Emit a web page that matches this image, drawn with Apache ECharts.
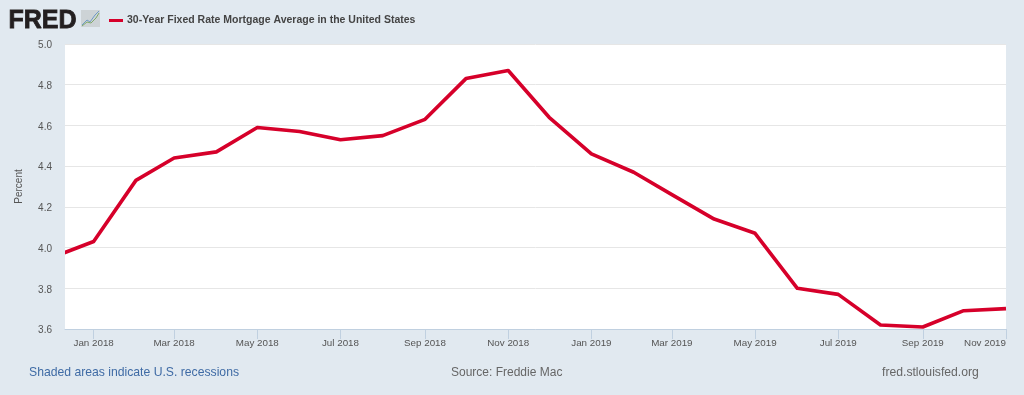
<!DOCTYPE html>
<html><head><meta charset="utf-8">
<style>html,body{margin:0;padding:0;background:#e1e9f0}#c{width:1024px;height:395px}</style>
<script src="https://cdn.jsdelivr.net/npm/echarts@6/dist/echarts.min.js"></script>
</head><body><div id="c"></div>
<script>
var seriesName = '30-Year Fixed Rate Mortgage Average in the United States';
var months = ['2017-12-01','2018-01-01','2018-02-01','2018-03-01','2018-04-01','2018-05-01','2018-06-01','2018-07-01','2018-08-01','2018-09-01','2018-10-01','2018-11-01','2018-12-01','2019-01-01','2019-02-01','2019-03-01','2019-04-01','2019-05-01','2019-06-01','2019-07-01','2019-08-01','2019-09-01','2019-10-01','2019-11-01'];
var rates = [3.95,4.03,4.33,4.44,4.47,4.59,4.57,4.53,4.55,4.63,4.83,4.87,4.64,4.46,4.37,4.26,4.14,4.07,3.80,3.77,3.62,3.61,3.69,3.70];
var tickMonths = ['2018-01-01','2018-03-01','2018-05-01','2018-07-01','2018-09-01','2018-11-01','2019-01-01','2019-03-01','2019-05-01','2019-07-01','2019-09-01','2019-11-01'];
var monthNames = ['Jan','Feb','Mar','Apr','May','Jun','Jul','Aug','Sep','Oct','Nov','Dec'];
function ts(s){return Date.parse(s+'T00:00:00Z');}
var font = '"Liberation Sans", Arial, sans-serif';
var chart = echarts.init(document.getElementById('c'), null, {renderer:'canvas'});
chart.setOption({
  backgroundColor:'#e1e9f0',
  animation:false,
  grid:{left:65,right:18,top:44,bottom:66,backgroundColor:'#fff',show:true,borderWidth:0},
  legend:{left:104,top:10,icon:'rect',itemWidth:14,itemHeight:3,itemGap:5,
    textStyle:{color:'#444',fontSize:10.5,fontWeight:'bold',fontFamily:font,padding:[0,0,0,-1]},
    data:[seriesName]},
  xAxis:{type:'value',scale:true,min:ts('2017-12-11'),max:ts('2019-11-01'),
    axisLine:{show:true,lineStyle:{color:'#c0d0e0',width:1}},
    axisTick:{show:true,inside:false,length:10,alignWithLabel:true,lineStyle:{color:'#c0d0e0',width:1},customValues:tickMonths.map(ts)},
    axisLabel:{color:'#555',fontSize:9.8,fontFamily:font,margin:9,
      customValues:tickMonths.map(ts),alignMaxLabel:'right',hideOverlap:false,
      formatter:function(v){var d=new Date(v);return monthNames[d.getUTCMonth()]+' '+d.getUTCFullYear();}},
    splitLine:{show:false}},
  yAxis:{type:'value',min:3.6,max:5.0,interval:0.2,name:'Percent',nameLocation:'middle',nameGap:41,
    nameTextStyle:{color:'#555',fontSize:10,fontFamily:font},
    axisLine:{show:false},axisTick:{show:false},
    axisLabel:{color:'#555',fontSize:10,fontFamily:font,margin:13,verticalAlign:'top',lineHeight:3,formatter:function(v){return v.toFixed(1);}},
    splitLine:{show:true,lineStyle:{color:'#e6e6e6',width:1}}},
  series:[{name:seriesName,type:'line',showSymbol:false,smooth:false,clip:true,
    lineStyle:{color:'#d6002a',width:3.6,join:'round'},itemStyle:{color:'#d6002a'},
    data:months.map(function(m,i){return [ts(m),rates[i]];})}],
  graphic:[
    {type:'rect',z:100,shape:{x:58,y:244,width:7,height:18},style:{fill:'#e1e9f0'},silent:true},
    {type:'text',left:8,top:8,style:{text:'FRED',fill:'#231f20',stroke:'#231f20',lineWidth:0.8,font:'bold 25px '+font}},
    {type:'rect',shape:{x:81,y:10,width:19,height:17},style:{fill:'#cdd3d6'},silent:true},
    {type:'polyline',shape:{points:[[82,25],[87,20],[90,22],[95,15],[99,11]]},style:{stroke:'#6f9bc4',lineWidth:1,fill:'none'}},
    {type:'polyline',shape:{points:[[82,26],[87,22],[91,23],[96,18],[99,13]]},style:{stroke:'#7fa86a',lineWidth:1,fill:'none'}},
    {type:'text',left:29,top:367,style:{text:'Shaded areas indicate U.S. recessions',fill:'#3f6ba5',font:'12.2px '+font}},
    {type:'text',left:451,top:367,style:{text:'Source: Freddie Mac',fill:'#666',font:'12px '+font}},
    {type:'text',left:882,top:367,style:{text:'fred.stlouisfed.org',fill:'#666',font:'12.2px '+font}}
  ]
});
</script></body></html>
